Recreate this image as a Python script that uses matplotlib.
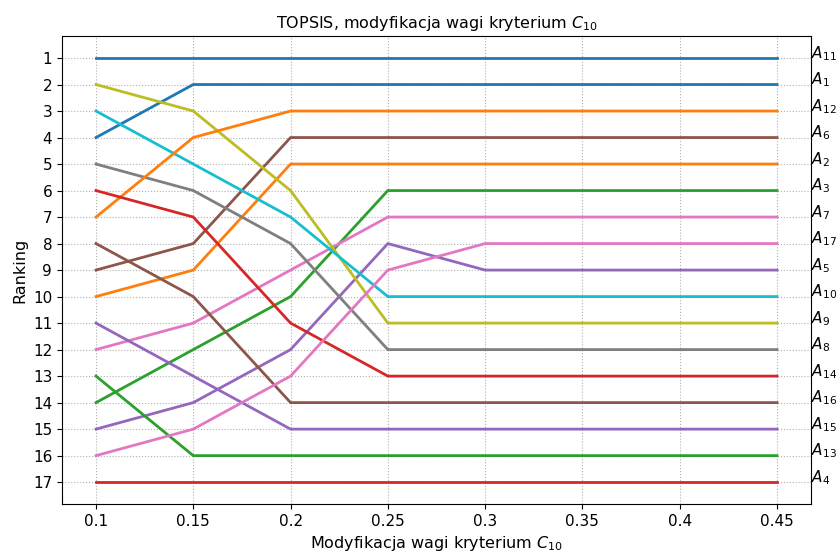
import matplotlib
matplotlib.use("Agg")
import matplotlib.pyplot as plt
from matplotlib.transforms import blended_transform_factory, offset_copy

x = [0.1, 0.15, 0.2, 0.25, 0.3, 0.35, 0.4, 0.45]
names = [f"A{i}" for i in range(1, 18)]
ranks = {
    "A1":  [4, 2, 2, 2, 2, 2, 2, 2],
    "A2":  [10, 9, 5, 5, 5, 5, 5, 5],
    "A3":  [14, 12, 10, 6, 6, 6, 6, 6],
    "A4":  [17, 17, 17, 17, 17, 17, 17, 17],
    "A5":  [15, 14, 12, 8, 9, 9, 9, 9],
    "A6":  [9, 8, 4, 4, 4, 4, 4, 4],
    "A7":  [12, 11, 9, 7, 7, 7, 7, 7],
    "A8":  [5, 6, 8, 12, 12, 12, 12, 12],
    "A9":  [2, 3, 6, 11, 11, 11, 11, 11],
    "A10": [3, 5, 7, 10, 10, 10, 10, 10],
    "A11": [1, 1, 1, 1, 1, 1, 1, 1],
    "A12": [7, 4, 3, 3, 3, 3, 3, 3],
    "A13": [13, 16, 16, 16, 16, 16, 16, 16],
    "A14": [6, 7, 11, 13, 13, 13, 13, 13],
    "A15": [11, 13, 15, 15, 15, 15, 15, 15],
    "A16": [8, 10, 14, 14, 14, 14, 14, 14],
    "A17": [16, 15, 13, 9, 8, 8, 8, 8],
}
xticks = [0.1, 0.15, 0.2, 0.25, 0.3, 0.35, 0.4, 0.45]
xticklabels = ["0.1", "0.15", "0.2", "0.25", "0.3", "0.35", "0.4", "0.45"]

fig, ax = plt.subplots(figsize=(8.37, 5.54), dpi=100)
fig.subplots_adjust(left=0.074, right=0.969, top=0.935, bottom=0.090)
colors = plt.rcParams['axes.prop_cycle'].by_key()['color']
for i, n in enumerate(names):
    ax.plot(x, ranks[n], color=colors[i % 10], lw=2)

ax.set_ylim(17.83, 0.17)
ax.set_yticks(range(1, 18))
ax.set_xticks(xticks)
ax.set_xticklabels(xticklabels)
ax.tick_params(labelsize=11)
ax.grid(True, linestyle=':', color='#b0b0b0')
ax.set_xlabel("Modyfikacja wagi kryterium $C_{10}$", fontsize=11.5)
ax.set_ylabel("Ranking", fontsize=11.5)
ax.set_title("TOPSIS, modyfikacja wagi kryterium $C_{10}$", fontsize=11.5)

trans = offset_copy(blended_transform_factory(ax.transAxes, ax.transData),
                    fig=fig, x=0, y=0, units='points')
for n in names:
    ax.text(1.0, ranks[n][-1], f"$A_{{{n[1:]}}}$", transform=trans,
            fontsize=11, ha='left', va='baseline', clip_on=False)

fig.savefig("out.png", dpi=100)
